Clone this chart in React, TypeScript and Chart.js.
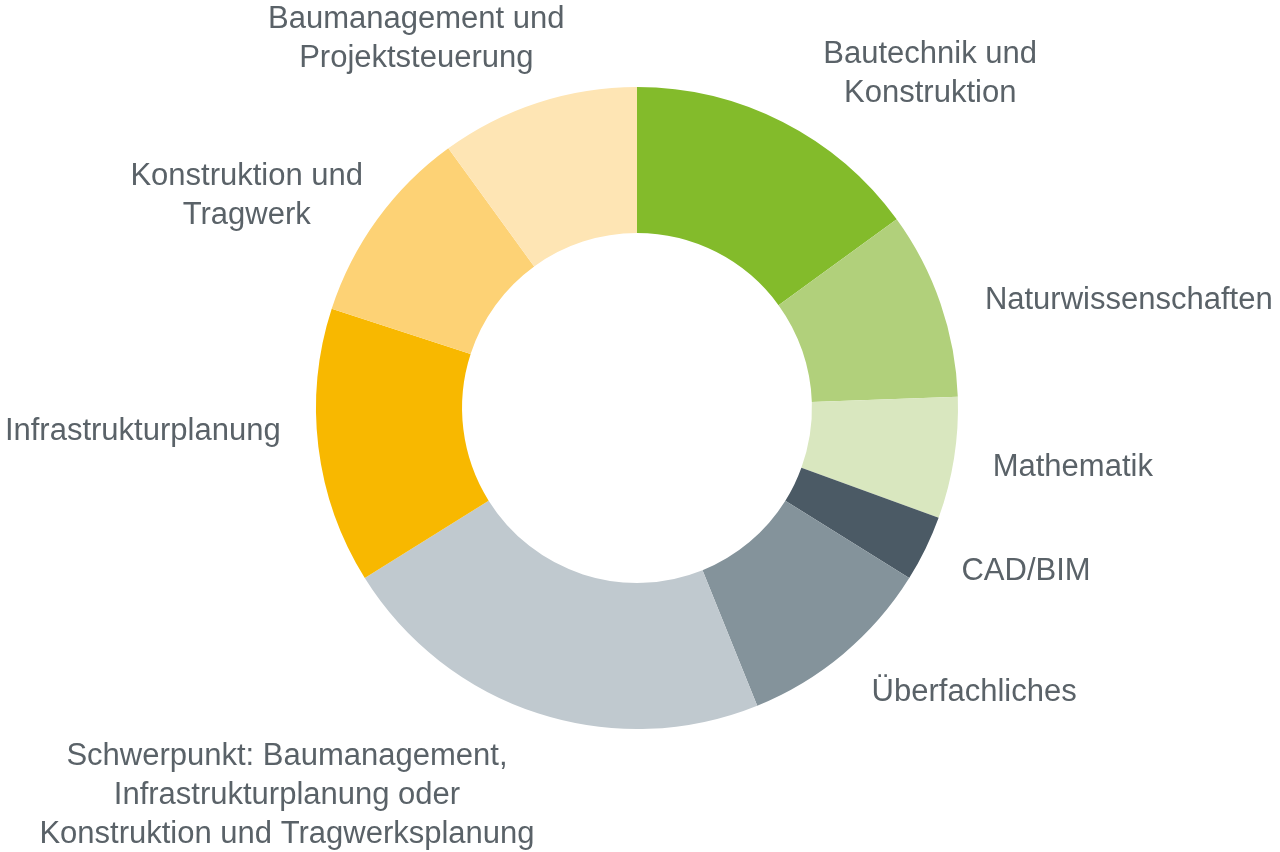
import React, { useEffect, useRef } from 'react';
import { Chart, registerables } from 'chart.js';

Chart.register(...registerables);

// ECTS per module group (sums to 180)
const labels = [
    ['Bautechnik und', 'Konstruktion'],
    ['Naturwissenschaften'],
    ['Mathematik'],
    ['CAD/BIM'],
    ['Überfachliches'],
    ['Schwerpunkt: Baumanagement,', 'Infrastrukturplanung oder', 'Konstruktion und Tragwerksplanung'],
    ['Infrastrukturplanung'],
    ['Konstruktion und', 'Tragwerk'],
    ['Baumanagement und', 'Projektsteuerung'],
];
const credits = [27, 17, 11, 6, 18, 40, 25, 18, 18];
const colors = ['#83bb2b', '#b1d07b', '#d9e7bf', '#4b5a65', '#84939b', '#c0c9cf', '#f8b800', '#fdd275', '#fee5b4'];

// nudges for the outside labels, relative to the arc's mid-angle anchor
const labelOffsets = [
    [27, -24], [16, 4], [9, 2], [9, 7], [9, 13], [6, 51], [-8, -22], [10, -9], [36, -38],
];

const FONT = '31px "Liberation Sans", Arial, sans-serif';
const LINE_HEIGHT = 39;
const TEXT_COLOR = '#5a6268';

const outsideLabels = {
    id: 'outsideLabels',
    afterDraw(chart) {
        const { ctx } = chart;
        const meta = chart.getDatasetMeta(0);
        ctx.save();
        ctx.font = FONT;
        ctx.fillStyle = TEXT_COLOR;
        ctx.textAlign = 'center';
        ctx.textBaseline = 'middle';
        meta.data.forEach((arc, i) => {
            const { x, y, startAngle, endAngle, outerRadius } = arc.getProps(['x', 'y', 'startAngle', 'endAngle', 'outerRadius'], true);
            const mid = (startAngle + endAngle) / 2;
            const r = outerRadius + 30;
            const ax = x + Math.cos(mid) * r + labelOffsets[i][0];
            const ay = y + Math.sin(mid) * r + labelOffsets[i][1] + 3;
            const lines = labels[i];
            const width = Math.max(...lines.map(l => ctx.measureText(l).width));
            const onRight = Math.cos(mid) >= 0;
            const cx = onRight ? ax + width / 2 : ax - width / 2;
            const top = ay - (lines.length - 1) * LINE_HEIGHT / 2;
            lines.forEach((line, j) => ctx.fillText(line, cx, top + j * LINE_HEIGHT));
        });
        ctx.restore();
    },
};

const App = () => {
    const chartRef = useRef(null);
    const chartInstanceRef = useRef(null);

    useEffect(() => {
        document.body.style.margin = '0';
        if (!chartRef.current) return;
        const ctx = chartRef.current.getContext('2d');
        if (!ctx) return;

        chartInstanceRef.current = new Chart(ctx, {
            type: 'doughnut',
            data: {
                labels: labels.map(l => l.join(' ')),
                datasets: [{
                    data: credits,
                    backgroundColor: colors,
                    borderWidth: 0,
                }],
            },
            options: {
                responsive: true,
                maintainAspectRatio: false,
                animation: false,
                cutout: '54.5%',
                layout: {
                    padding: { top: 87, bottom: 123, left: 316, right: 322 },
                },
                plugins: {
                    legend: { display: false },
                    tooltip: { enabled: false },
                },
            },
            plugins: [outsideLabels],
        });

        return () => {
            if (chartInstanceRef.current) {
                chartInstanceRef.current.destroy();
                chartInstanceRef.current = null;
            }
        };
    }, []);

    return (
        <div style={{ position: 'absolute', left: 0, top: 0, width: '1280px', height: '852px', background: '#fff' }}>
            <canvas ref={chartRef} />
        </div>
    );
};

export default App;
